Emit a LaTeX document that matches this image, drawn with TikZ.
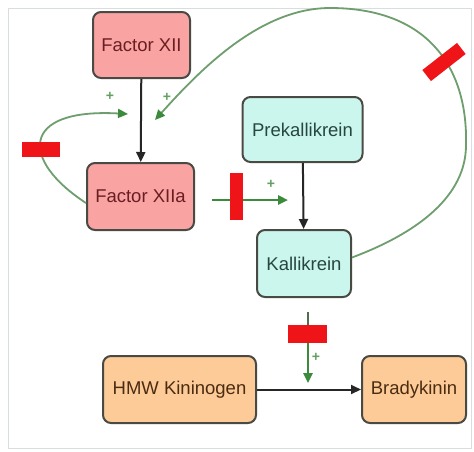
\documentclass[tikz,border=0pt]{standalone}
\usepackage{fontspec}
\setmainfont{Liberation Sans}
\usetikzlibrary{arrows.meta}
\definecolor{redfill}{HTML}{F9A3A3}
\definecolor{redtext}{HTML}{6B1E22}
\definecolor{tealfill}{HTML}{CBF6EE}
\definecolor{tealtext}{HTML}{27463F}
\definecolor{orfill}{HTML}{FDCB97}
\definecolor{ortext}{HTML}{4A2C12}
\definecolor{boxline}{HTML}{4A4A44}
\definecolor{gdark}{HTML}{3C8A3C}
\definecolor{glight}{HTML}{6E9E6E}
\definecolor{barred}{HTML}{EE1418}
\definecolor{frame}{HTML}{D8DEDE}
\tikzset{
  box/.style={draw=boxline, line width=2pt, rounded corners=8pt, align=center,
    font=\fontsize{18.5}{20}\selectfont, inner sep=0pt},
  redbox/.style={box, fill=redfill, text=redtext},
  tealbox/.style={box, fill=tealfill, text=tealtext},
  orbox/.style={box, fill=orfill, text=ortext},
  blackarrow/.style={-{Triangle[length=10pt,width=9pt]}, line width=2pt, draw=black!85},
  greenarrow/.style={-{Triangle[length=10pt,width=9pt,fill=gdark]}, line width=2.4pt, draw=gdark},
  loopline/.style={line width=1.8pt, draw=glight},
  looparrow/.style={loopline, -{Triangle[length=10pt,width=9pt,fill=gdark,color=gdark]}},
  inhib/.style={fill=barred, draw=none, inner sep=0pt},
  plus/.style={text=gdark!80, font=\fontsize{14}{14}\selectfont\bfseries, inner sep=0pt}
}
\begin{document}
\begin{tikzpicture}[x=1pt,y=-1pt]
\path[use as bounding box, fill=white] (0,0) rectangle (474,451);
\draw[frame, line width=1pt] (8,8) rectangle (471,448);

\node[redbox, minimum width=97pt, minimum height=66pt] (f12) at (141.5,45) {Factor XII};
\node[redbox, minimum width=107pt, minimum height=67pt] (f12a) at (140.5,196.5) {Factor XIIa};
\node[tealbox, minimum width=120pt, minimum height=65pt] (pk) at (302.5,129.5) {Prekallikrein};
\node[tealbox, minimum width=94pt, minimum height=67pt] (k) at (304,263.5) {Kallikrein};
\node[orbox, minimum width=153pt, minimum height=67pt] (hmw) at (179.5,389.5) {HMW Kininogen};
\node[orbox, minimum width=104pt, minimum height=67pt] (bk) at (414,389.5) {Bradykinin};

\draw[blackarrow] (f12) -- (f12a);
\draw[blackarrow] (pk) -- (k);
\draw[blackarrow] (hmw) -- (bk);

% XIIa -> activation arrow
\coordinate (a1s) at (212,200);
\coordinate (a1e) at (288,200);
\draw[greenarrow] (a1s) -- (a1e);
\node[inhib, minimum width=13pt, minimum height=47pt] (bar1) at (236.5,196.5) {};
\node[plus] (p3) at (271,184) {+};

% Kallikrein -> HMW conversion arrow
\coordinate (a2s) at (308,312);
\coordinate (a2e) at (308,383);
\draw[greenarrow] (a2s) -- (a2e);
\draw[line width=2pt, draw=glight!70!black] (a2s) -- (308,326);
\node[inhib, minimum width=39pt, minimum height=18pt] (bar2) at (307.5,334) {};
\node[plus] (p4) at (316,357) {+};

% left feedback loop
\coordinate (t1) at (128,114);
\draw[looparrow] (f12a.west |- 0,203) .. controls (20,160) and (20,108) .. (t1);
\node[inhib, minimum width=38pt, minimum height=15pt] (bar3) at (41,149.5) {};
\node[plus] (p1) at (110,96) {+};

% big feedback loop from Kallikrein
\coordinate (t2) at (155,120);
\coordinate (r1) at (466,145);
\coordinate (r2) at (330,8);
\draw[looparrow] ([yshift=6pt]k.east) .. controls (420,232) and (466,195) .. (r1)
  .. controls (468,70) and (430,8) .. (r2)
  .. controls (260,8) and (200,70) .. (t2);
\node[inhib, minimum width=44pt, minimum height=14pt, rotate=38] (bar4) at (444,62) {};
\node[plus] (p2) at (167,97) {+};
\end{tikzpicture}
\end{document}
